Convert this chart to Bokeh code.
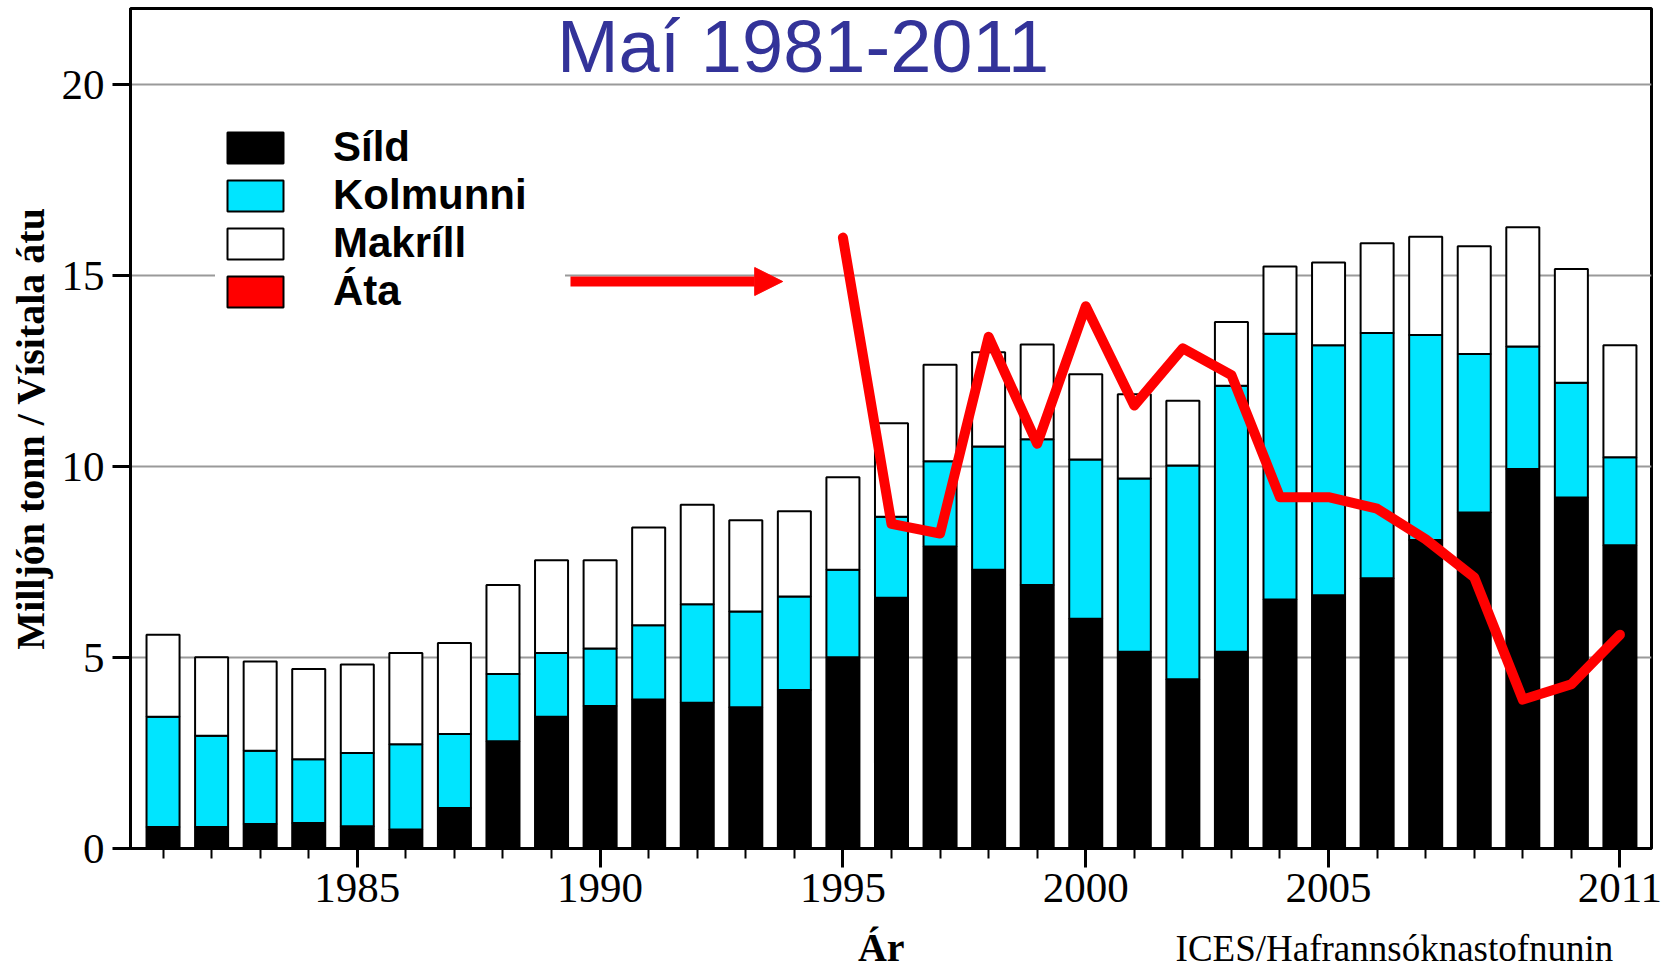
from bokeh.plotting import figure
from bokeh.layouts import column
from bokeh.models import (Range1d, FixedTicker, Legend, LegendItem, Label, Arrow,
                          NormalHead, ColumnDataSource)
from bokeh.core.properties import value
from bokeh.embed import file_html
from bokeh.resources import INLINE

# ---------------- data ----------------
years = list(range(1981, 2012))
sild = [0.56, 0.56, 0.64, 0.67, 0.58, 0.50, 1.06, 2.81, 3.45, 3.73,
        3.90, 3.82, 3.70, 4.15, 5.01, 6.57, 7.91, 7.30, 6.90, 6.02,
        5.15, 4.43, 5.15, 6.52, 6.63, 7.08, 8.08, 8.80, 9.94, 9.19, 7.94]
kolmunni = [2.89, 2.39, 1.92, 1.67, 1.92, 2.23, 1.94, 1.76, 1.67, 1.51,
            1.95, 2.58, 2.51, 2.45, 2.29, 2.12, 2.23, 3.23, 3.82, 4.17,
            4.54, 5.60, 6.97, 6.96, 6.55, 6.42, 5.37, 4.15, 3.21, 3.01, 2.31]
makrill = [2.15, 2.06, 2.34, 2.36, 2.32, 2.39, 2.38, 2.33, 2.43, 2.31,
           2.56, 2.60, 2.39, 2.23, 2.42, 2.45, 2.53, 2.47, 2.48, 2.23,
           2.21, 1.70, 1.67, 1.76, 2.17, 2.35, 2.57, 2.82, 3.12, 2.98, 2.93]
ata_years = list(range(1995, 2012))
ata = [16.0, 8.5, 8.25, 13.4, 10.6, 14.2, 11.6, 13.1, 12.4, 9.2,
       9.2, 8.9, 8.1, 7.1, 3.9, 4.3, 5.6]
series_keys = ["sild", "kolmunni", "makrill"]
series_labels = ["Síld", "Kolmunni", "Makríll", "Áta"]
series_colors = ["#000000", "#00e5ff", "#ffffff", "#ff0000"]
major_years = [1985, 1990, 1995, 2000, 2005, 2011]
y_ticks = [0, 5, 10, 15, 20]
title_text = "Maí 1981-2011"
y_label = "Milljón tonn / Vísitala átu"
x_label = "Ár"
source_text = "ICES/Hafrannsóknastofnunin"

# ---------------- main figure ----------------
x_range = Range1d(1980.33, 2011.65)
p = figure(width=1670, height=922, output_backend="svg", toolbar_location=None,
           x_range=x_range, y_range=Range1d(0, 22),
           min_border_left=130, min_border_right=19, min_border_top=8,
           min_border_bottom=74)
p.background_fill_color = "white"
p.border_fill_color = "white"
p.outline_line_color = "black"
p.outline_line_width = 3

src = ColumnDataSource(dict(year=years, sild=sild, kolmunni=kolmunni, makrill=makrill))
bars = p.vbar_stack(series_keys, x="year", width=0.68, source=src,
                    fill_color=series_colors[:3], line_color="black", line_width=2)

p.line(ata_years, ata, line_color=series_colors[3], line_width=10,
       line_join="round", line_cap="round")

# hidden renderer that only supplies the red box swatch for the Áta legend entry
ata_sw = p.vbar(x=ata_years, top=ata, width=0.68, fill_color=series_colors[3],
                line_color="black", line_width=2, visible=False)

# axes
p.xgrid.visible = False
p.ygrid.ticker = FixedTicker(ticks=[5, 10, 15, 20])
p.ygrid.grid_line_color = "#9a9a9a"
p.ygrid.grid_line_width = 2

xa = p.xaxis[0]
xa.ticker = FixedTicker(ticks=major_years, minor_ticks=years)
xa.axis_line_width = 3
xa.major_tick_line_width = 3
xa.minor_tick_line_width = 2
xa.major_tick_out = 19
xa.major_tick_in = 0
xa.minor_tick_out = 10
xa.minor_tick_in = 0
xa.major_label_standoff = 6
xa.major_label_text_font = "Liberation Serif"
xa.major_label_text_font_size = "43px"
xa.major_label_text_color = "black"

ya = p.yaxis[0]
ya.ticker = FixedTicker(ticks=y_ticks)
ya.axis_line_width = 3
ya.major_tick_line_width = 3
ya.major_tick_out = 18
ya.major_tick_in = 0
ya.minor_tick_line_color = None
ya.major_label_standoff = 8
ya.major_label_text_font = "Liberation Serif"
ya.major_label_text_font_size = "43px"
ya.major_label_text_color = "black"
ya.axis_label = y_label
ya.axis_label_text_font = "Liberation Serif"
ya.axis_label_text_font_style = "bold"
ya.axis_label_text_font_size = "40px"
ya.axis_label_text_color = "black"
ya.axis_label_standoff = 6

# legend
items = [LegendItem(label=series_labels[i], renderers=[bars[i]]) for i in range(3)]
items.append(LegendItem(label=series_labels[3], renderers=[ata_sw]))
legend = Legend(items=items, location=(85, 528), orientation="vertical",
                label_text_font="Liberation Sans", label_text_font_style="bold",
                label_text_font_size="42px", label_text_color="black",
                glyph_width=70, glyph_height=39, label_standoff=43,
                label_width=227, spacing=-3, padding=5, margin=0,
                background_fill_color="white", background_fill_alpha=1.0,
                border_line_alpha=0, inactive_fill_alpha=0.0)
p.add_layout(legend, "center")

# arrow
p.add_layout(Arrow(end=NormalHead(size=28, fill_color="red", line_color="red", line_width=1),
                   x_start=1989.39, y_start=14.85, x_end=1993.76, y_end=14.85,
                   line_color="red", line_width=10, level="overlay"))

# title inside the frame
p.add_layout(Label(x=1994.18, y=21.0, text=title_text, text_align="center",
                   text_baseline="middle", text_font="Liberation Sans",
                   text_font_size="74px", text_color="#333399"))

# ---------------- bottom strip with axis title and source ----------------
p2 = figure(width=1670, height=50, output_backend="svg", toolbar_location=None,
            x_range=x_range, y_range=Range1d(0, 50),
            x_axis_location=None, y_axis_location=None,
            min_border_left=130, min_border_right=19, min_border_top=0,
            min_border_bottom=0)
p2.outline_line_color = None
p2.grid.visible = False
p2.background_fill_color = "white"
p2.border_fill_color = "white"
p2.text(x=[1995.79], y=[25.0], text=[x_label], text_align="center",
        text_baseline="middle", text_font=value("Liberation Serif"),
        text_font_style="bold", text_font_size="40px", text_color="black")
p2.text(x=[2001.85], y=[24.5], text=[source_text], text_align="left",
        text_baseline="middle", text_font=value("Liberation Serif"),
        text_font_size="37px", text_color="black")

layout = column(p, p2, spacing=0)
open("out.html", "w").write(file_html(layout, INLINE))
